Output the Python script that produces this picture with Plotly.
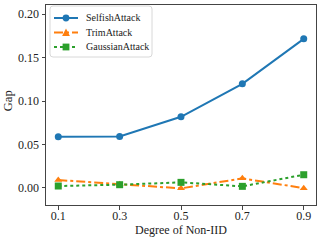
import plotly.graph_objects as go

x_vals = [0.1, 0.3, 0.5, 0.7, 0.9]
selfish = [0.0588, 0.0592, 0.0818, 0.1198, 0.1717]
trim = [0.0089, 0.0039, -0.0007, 0.0108, -0.0005]
gaussian = [0.0020, 0.0035, 0.0062, 0.0016, 0.0150]
series_names = ["SelfishAttack", "TrimAttack", "GaussianAttack"]
x_ticks = [0.1, 0.3, 0.5, 0.7, 0.9]
y_ticks = [0.00, 0.05, 0.10, 0.15, 0.20]

FONT = "Liberation Serif"
W, H = 320, 241
ML, MR, MT, MB = 46, 4, 5, 36
PW, PH = W - ML - MR, H - MT - MB

styles = [
    dict(color="#1f77b4", dash="solid", symbol="circle"),
    dict(color="#ff7f0e", dash="dashdot", symbol="triangle-up"),
    dict(color="#2ca02c", dash="dot", symbol="square"),
]

fig = go.Figure()
for name, vals, st in zip(series_names, [selfish, trim, gaussian], styles):
    fig.add_trace(go.Scatter(x=x_vals, y=vals, name=name, mode="lines+markers",
                             line=dict(color=st["color"], width=2, dash=st["dash"]),
                             marker=dict(symbol=st["symbol"], size=7, color=st["color"]),
                             showlegend=False))

axis_common = dict(showline=True, linecolor="#444", linewidth=1, mirror=True, automargin=False,
                   ticks="outside", ticklen=3.5, tickcolor="#444", showgrid=False, zeroline=False,
                   tickfont=dict(family=FONT, size=12, color="#222"))
fig.update_xaxes(range=[0.06, 0.94], tickvals=x_ticks, ticktext=[f"{v:.1f}" for v in x_ticks],
                 ticklabelstandoff=-4, **axis_common)
fig.update_yaxes(range=[-0.0199, 0.2107], tickvals=y_ticks, ticktext=[f"{v:.2f}" for v in y_ticks],
                 **axis_common)
fig.add_annotation(text="Degree of Non-IID", xref="paper", yref="paper", x=0.5, y=-0.125,
                   showarrow=False, xanchor="center", yanchor="middle",
                   font=dict(family=FONT, size=12, color="#222"))
fig.add_annotation(text="Gap", xref="paper", yref="paper", x=-0.14, y=0.52, textangle=-90,
                   showarrow=False, xanchor="center", yanchor="middle",
                   font=dict(family=FONT, size=12.5, color="#222"))

# custom legend (layout only), pixel -> paper helpers
def px(x):
    return (x - ML) / PW

def py(y):
    return (H - MB - y) / PH

# rounded legend box
bx0, bx1, by0, by1, r = 50, 152, 6, 57, 3
path = (f"M{px(bx0 + r)},{py(by0)} L{px(bx1 - r)},{py(by0)} Q{px(bx1)},{py(by0)} {px(bx1)},{py(by0 + r)} "
        f"L{px(bx1)},{py(by1 - r)} Q{px(bx1)},{py(by1)} {px(bx1 - r)},{py(by1)} "
        f"L{px(bx0 + r)},{py(by1)} Q{px(bx0)},{py(by1)} {px(bx0)},{py(by1 - r)} "
        f"L{px(bx0)},{py(by0 + r)} Q{px(bx0)},{py(by0)} {px(bx0 + r)},{py(by0)} Z")
fig.add_shape(type="path", path=path, xref="paper", yref="paper",
              line=dict(color="#d8d8d8", width=1), fillcolor="rgba(255,255,255,0.85)", layer="above")

rows = [18, 32.5, 47]
lx0, lx1, lxc = 54, 78, 66
for name, st, ry in zip(series_names, styles, rows):
    fig.add_shape(type="line", xref="paper", yref="paper", x0=px(lx0), x1=px(lx1), y0=py(ry), y1=py(ry),
                  line=dict(color=st["color"], width=2, dash=st["dash"]), layer="above")
    s = 3.4
    if st["symbol"] == "circle":
        fig.add_shape(type="circle", xref="paper", yref="paper", x0=px(lxc - s), x1=px(lxc + s),
                      y0=py(ry + s), y1=py(ry - s), fillcolor=st["color"], line=dict(width=0), layer="above")
    elif st["symbol"] == "square":
        fig.add_shape(type="rect", xref="paper", yref="paper", x0=px(lxc - s), x1=px(lxc + s),
                      y0=py(ry + s), y1=py(ry - s), fillcolor=st["color"], line=dict(width=0), layer="above")
    else:
        tri = f"M{px(lxc - s - 0.5)},{py(ry + s)} L{px(lxc + s + 0.5)},{py(ry + s)} L{px(lxc)},{py(ry - s - 0.5)} Z"
        fig.add_shape(type="path", xref="paper", yref="paper", path=tri, fillcolor=st["color"],
                      line=dict(width=0), layer="above")
    fig.add_annotation(text=name, xref="paper", yref="paper", x=px(84), y=py(ry), xanchor="left",
                       yanchor="middle", showarrow=False, font=dict(family=FONT, size=10, color="#222"))

fig.update_layout(width=W, height=H, margin=dict(l=ML, r=MR, t=MT, b=MB),
                  plot_bgcolor="white", paper_bgcolor="white",
                  font=dict(family=FONT, size=10, color="#222"), showlegend=False)
fig.write_html("out.html", config={"displayModeBar": False},
               post_script="document.body.style.margin='0';")
